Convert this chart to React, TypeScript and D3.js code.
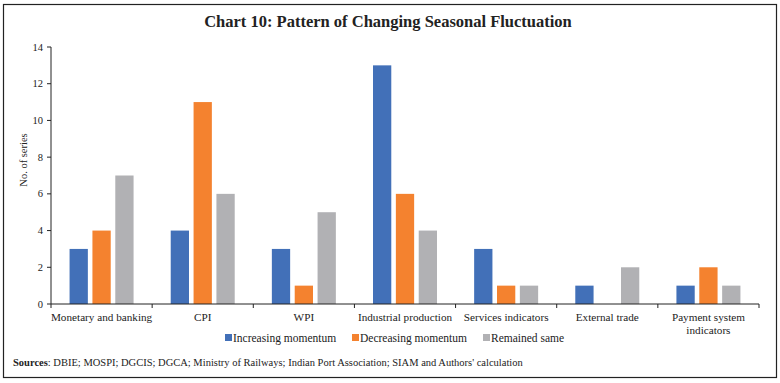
import React from "react";
import * as d3 from "d3";

const categories = [
  ["Monetary and banking"],
  ["CPI"],
  ["WPI"],
  ["Industrial production"],
  ["Services indicators"],
  ["External trade"],
  ["Payment system", "indicators"],
];
const seriesNames = ["Increasing momentum", "Decreasing momentum", "Remained same"];
const increasing = [3, 4, 3, 13, 3, 1, 1];
const decreasing = [4, 11, 1, 6, 1, 0, 2];
const remained = [7, 6, 5, 4, 1, 2, 1];
const yTicks = [0, 2, 4, 6, 8, 10, 12, 14];
const colors = ["#4270B8", "#F4822F", "#B1B1B4"];

const W = 780;
const H = 383;
const FONT = "'Liberation Serif', 'DejaVu Serif', serif";

export default function App() {
  const left = 51;
  const right = 759;
  const top = 47;
  const bottom = 304;
  const x = d3.scaleBand<number>().domain(d3.range(categories.length)).range([left, right]).paddingInner(0).paddingOuter(0);
  const inner = d3.scaleBand<number>().domain([0, 1, 2]).range([-32, 32]).paddingInner(0.2).paddingOuter(0);
  const y = d3.scaleLinear().domain([0, 14]).range([bottom, top]);
  const data = [increasing, decreasing, remained];
  const boundaries = d3.range(categories.length + 1).map((i) => left + i * x.step());

  const legendItems = [
    { x: 225, label: seriesNames[0] },
    { x: 352, label: seriesNames[1] },
    { x: 483, label: seriesNames[2] },
  ];

  return (
    <svg width={W} height={H} style={{ position: "absolute", left: 0, top: 0, display: "block" }} fontFamily={FONT}>
      <rect x={0} y={0} width={W} height={H} fill="#fff" />
      <rect x={3.5} y={4.5} width={773} height={373} fill="none" stroke="#222" strokeWidth={1.2} />
      <text x={388} y={27} textAnchor="middle" fontSize={16.5} fontWeight="bold" fill="#222">
        Chart 10: Pattern of Changing Seasonal Fluctuation
      </text>
      {data.map((vals, s) =>
        vals.map((v, i) => (
          <rect
            key={`${s}-${i}`}
            x={(x(i) as number) + x.bandwidth() / 2 + (inner(s) as number)}
            y={y(v)}
            width={inner.bandwidth()}
            height={bottom - y(v)}
            fill={colors[s]}
          />
        ))
      )}
      <line x1={left} x2={left} y1={top} y2={bottom} stroke="#222" strokeWidth={1} />
      {yTicks.map((t) => (
        <g key={t}>
          <line x1={left - 4} x2={left} y1={y(t)} y2={y(t)} stroke="#222" />
          <text x={left - 8} y={y(t) + 3.5} textAnchor="end" fontSize={10.5} fill="#222">
            {t}
          </text>
        </g>
      ))}
      <line x1={left} x2={right} y1={bottom} y2={bottom} stroke="#222" strokeWidth={1} />
      {boundaries.map((b, i) => (
        <line key={i} x1={b} x2={b} y1={bottom} y2={bottom + 4} stroke="#222" />
      ))}
      {categories.map((lines, i) =>
        lines.map((ln, j) => (
          <text key={`${i}-${j}`} x={(x(i) as number) + x.bandwidth() / 2} y={321 + j * 12.5} textAnchor="middle" fontSize={11.2} fill="#222">
            {ln}
          </text>
        ))
      )}
      <text transform={`translate(27,160) rotate(-90)`} textAnchor="middle" fontSize={10.5} fill="#222">
        No. of series
      </text>
      {legendItems.map((it, s) => (
        <g key={s}>
          <rect x={it.x} y={334} width={7} height={7} fill={colors[s]} />
          <text x={it.x + 8} y={341.5} fontSize={11.5} fill="#222">
            {it.label}
          </text>
        </g>
      ))}
      <text x={13} y={366} fontSize={10.5} fill="#222">
        <tspan fontWeight="bold">Sources</tspan>
        <tspan>: DBIE; MOSPI; DGCIS; DGCA; Ministry of Railways; Indian Port Association; SIAM and Authors' calculation</tspan>
      </text>
    </svg>
  );
}
